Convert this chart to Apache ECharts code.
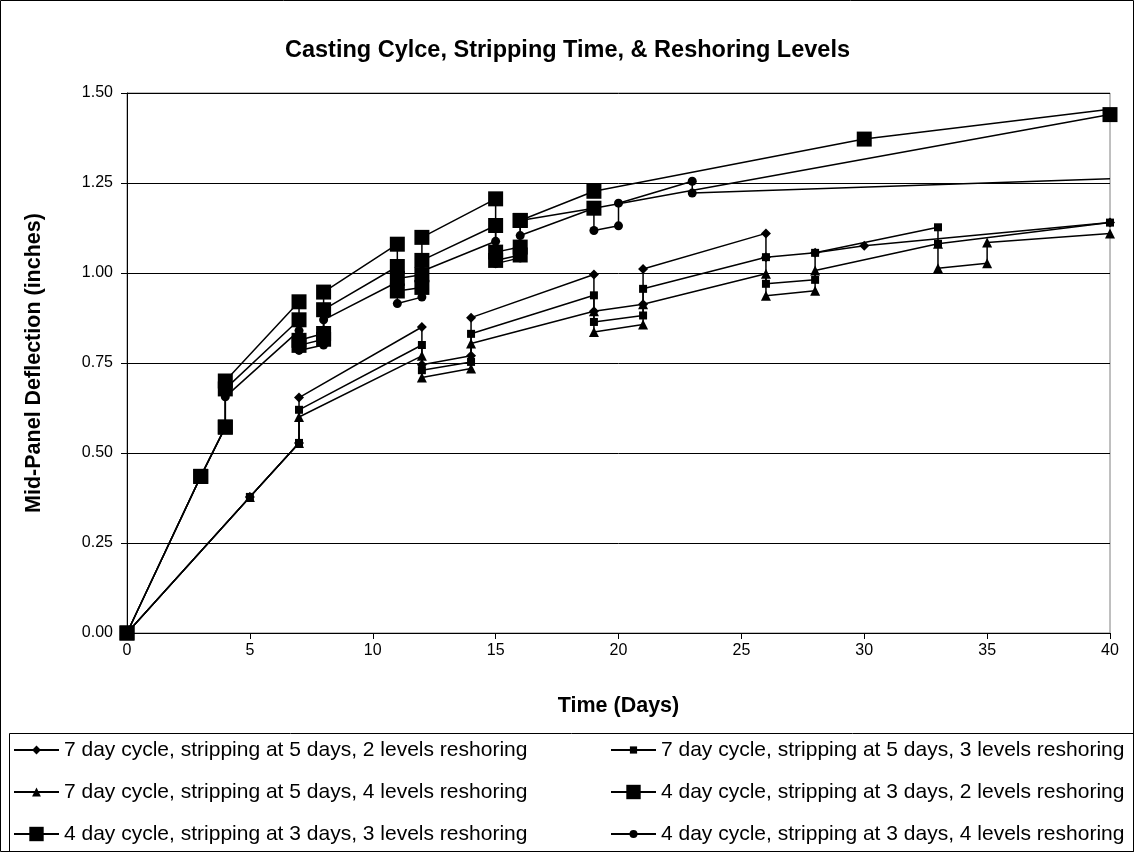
<!DOCTYPE html>
<html>
<head>
<meta charset="utf-8">
<script src="https://cdn.jsdelivr.net/npm/echarts@6/dist/echarts.min.js"></script>
<style>
html,body{margin:0;padding:0;background:#fff;}
#chart{width:1135px;height:853px;}
</style>
</head>
<body>
<div id="chart"></div>
<script>
// Series names
const seriesNames = [
  '7 day cycle, stripping at 5 days, 2 levels reshoring',
  '7 day cycle, stripping at 5 days, 3 levels reshoring',
  '7 day cycle, stripping at 5 days, 4 levels reshoring',
  '4 day cycle, stripping at 3 days, 2 levels reshoring',
  '4 day cycle, stripping at 3 days, 3 levels reshoring',
  '4 day cycle, stripping at 3 days, 4 levels reshoring'
];
// [day, deflection]
const d7lv2 = [[0,0],[5,0.378],[7,0.528],[7,0.654],[12,0.850],[12,0.745],[14,0.770],[14,0.876],[19,0.996],[19,0.894],[21,0.913],[21,1.011],[26,1.110],[26,1.044],[28,1.056],[30,1.076],[40,1.140]];
const d7lv3 = [[0,0],[5,0.378],[7,0.528],[7,0.620],[12,0.800],[12,0.730],[14,0.753],[14,0.831],[19,0.938],[19,0.864],[21,0.882],[21,0.956],[26,1.044],[26,0.970],[28,0.981],[28,1.056],[33,1.127],[33,1.081],[40,1.140]];
const d7lv4 = [[0,0],[5,0.378],[7,0.528],[7,0.600],[12,0.770],[12,0.710],[14,0.735],[14,0.804],[19,0.894],[19,0.836],[21,0.857],[21,0.913],[26,0.998],[26,0.937],[28,0.951],[28,1.007],[33,1.081],[33,1.013],[35,1.027],[35,1.085],[40,1.110]];
const d4lv2 = [[0,0],[3,0.435],[4,0.572],[4,0.700],[7,0.920],[7,0.813],[8,0.832],[8,0.947],[11,1.080],[11,0.985],[12,0.995],[12,1.099],[15,1.206],[15,1.058],[16,1.072],[16,1.146],[19,1.227],[30,1.372],[40,1.455]];
const d4lv3 = [[0,0],[3,0.435],[4,0.572],[4,0.678],[7,0.870],[7,0.799],[8,0.816],[8,0.898],[11,1.018],[11,0.950],[12,0.960],[12,1.035],[15,1.132],[15,1.035],[16,1.050],[16,1.146],[19,1.180],[40,1.440]];
const d4lv4 = [[0,0],[3,0.435],[4,0.572],[4,0.656],[7,0.840],[7,0.785],[8,0.800],[8,0.870],[11,0.975],[11,0.915],[12,0.933],[12,1.005],[15,1.088],[15,1.026],[16,1.042],[16,1.104],[19,1.180],[19,1.118],[20,1.131],[20,1.194],[23,1.255],[23,1.222],[40,1.262]];
// points continuing past the plotted range (drawn without a marker)
const openEnds = [false,false,false,true,false,true];

const allData = [d7lv2,d7lv3,d7lv4,d4lv2,d4lv3,d4lv4];
const symbols = ['diamond','rect','triangle','rect','rect','circle'];
const sizes = [10,8,10,15,15,9];
const legendIconH = [11,9,11,18,18,10];

const FONT = '"Liberation Sans", Arial, sans-serif';
const chart = echarts.init(document.getElementById('chart'), null, {renderer:'canvas'});

const series = allData.map((arr,i)=>({
  name: seriesNames[i],
  type: 'line',
  data: arr.map((p,j)=> (openEnds[i] && j===arr.length-1) ? {value:p, symbol:'none'} : p),
  symbol: symbols[i],
  symbolSize: sizes[i],
  showAllSymbol: true,
  color: '#000',
  itemStyle: {color:'#000', borderWidth:0},
  lineStyle: {color:'#000', width:1.5},
  emphasis: {disabled:true},
  z: 2+i
}));

// legend layout: [series index, left, row]
const legendSlots = [[0,13,0],[1,610,0],[2,13,1],[3,610,1],[4,13,2],[5,610,2]];
const rowCenters = [750,792,834];
const LEG_FS = 21;
const legends = legendSlots.map(([si,left,row])=>({
  data: [seriesNames[si]],
  orient: 'horizontal', left: left, top: rowCenters[row] - 11,
  itemWidth: 45, itemHeight: legendIconH[si], itemGap: 0, padding: 0,
  textStyle: {fontFamily: FONT, fontSize: LEG_FS, color:'#000', lineHeight: 22},
  selectedMode: false
}));

chart.setOption({
  animation: false,
  backgroundColor: '#fff',
  title: {
    text: 'Casting Cylce, Stripping Time, & Reshoring Levels',
    left: 'center', top: 34,
    textStyle: {fontFamily: FONT, fontSize: 23.5, fontWeight: 'bold', color:'#000'}
  },
  grid: {left: 127, right: 25, top: 93, bottom: 220, show: true, borderColor: '#808080', borderWidth: 1},
  xAxis: {
    type: 'value', min: 0, max: 40, interval: 5,
    name: 'Time (Days)', nameLocation: 'middle', nameGap: 62,
    nameTextStyle: {fontFamily: FONT, fontSize: 21.5, fontWeight: 'bold', color:'#000'},
    axisLine: {lineStyle:{color:'#000', width:1}},
    axisTick: {show:true, length:6, lineStyle:{color:'#000'}},
    axisLabel: {fontFamily: FONT, fontSize: 16, color:'#000', margin: 10},
    splitLine: {show:false}
  },
  yAxis: {
    type: 'value', min: 0, max: 1.5, interval: 0.25,
    name: 'Mid-Panel Deflection (inches)', nameLocation: 'middle', nameGap: 82, nameRotate: 90,
    nameTextStyle: {fontFamily: FONT, fontSize: 21.5, fontWeight: 'bold', color:'#000'},
    axisLine: {show:true, lineStyle:{color:'#000', width:1}},
    axisTick: {show:true, length:6, lineStyle:{color:'#000'}},
    axisLabel: {fontFamily: FONT, fontSize: 16, color:'#000', margin: 14, formatter: v => v.toFixed(2)},
    splitLine: {show:true, lineStyle:{color:'#000', width:1}}
  },
  legend: legends,
  graphic: [
    {type:'rect', shape:{x:0.5, y:0.5, width:1133, height:851}, style:{fill:null, stroke:'#000', lineWidth:1}, silent:true, z:-1},
    {type:'rect', shape:{x:9.5, y:733.5, width:1124, height:118}, style:{fill:null, stroke:'#000', lineWidth:1}, silent:true, z:-1}
  ],
  series: series
});
</script>
</body>
</html>
